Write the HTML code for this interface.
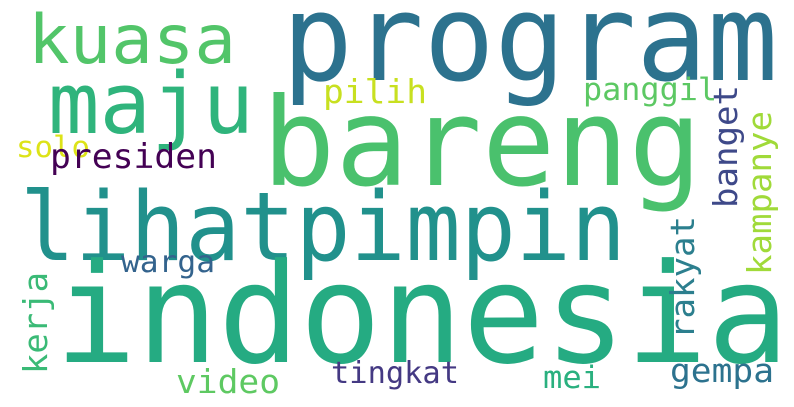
<!DOCTYPE html>
<html><head><meta charset="utf-8"><style>
html,body{margin:0;padding:0;background:#fff;}
svg{display:block;}
text{font-family:"DejaVu Sans Mono","Liberation Mono",monospace;}
</style></head><body>
<svg width="794" height="407" viewBox="0 0 794 407">
<rect width="794" height="407" fill="#fff"/>
<text x="282" y="80" font-size="120" fill="#2c728e" textLength="496" lengthAdjust="spacingAndGlyphs">program</text>
<text x="28" y="63" font-size="68" fill="#52c569" textLength="208" lengthAdjust="spacingAndGlyphs">kuasa</text>
<text x="48" y="133" font-size="85" fill="#2fb47c" textLength="206" lengthAdjust="spacingAndGlyphs">maju</text>
<text x="262" y="185" font-size="122" fill="#4ac16d" textLength="440" lengthAdjust="spacingAndGlyphs">bareng</text>
<text x="323" y="103" font-size="33" fill="#c8e020" textLength="104" lengthAdjust="spacingAndGlyphs">pilih</text>
<text x="583" y="100" font-size="31" fill="#5cc863" textLength="134" lengthAdjust="spacingAndGlyphs">panggil</text>
<text x="16" y="157" font-size="29" fill="#dde318" textLength="74" lengthAdjust="spacingAndGlyphs">solo</text>
<text x="50" y="168" font-size="34" fill="#440154" textLength="167" lengthAdjust="spacingAndGlyphs">presiden</text>
<text x="20" y="260" font-size="95" fill="#21918c" textLength="606" lengthAdjust="spacingAndGlyphs">lihatpimpin</text>
<text x="55" y="362" font-size="138" fill="#25ab82" textLength="734" lengthAdjust="spacingAndGlyphs">indonesia</text>
<text x="121" y="272" font-size="30" fill="#33638d" textLength="94" lengthAdjust="spacingAndGlyphs">warga</text>
<text x="176" y="393" font-size="33" fill="#5ec962" textLength="104" lengthAdjust="spacingAndGlyphs">video</text>
<text x="331" y="383" font-size="30" fill="#443983" textLength="128" lengthAdjust="spacingAndGlyphs">tingkat</text>
<text x="543" y="388" font-size="31" fill="#2ab07f" textLength="58" lengthAdjust="spacingAndGlyphs">mei</text>
<text x="670" y="382" font-size="33" fill="#2c728e" textLength="104" lengthAdjust="spacingAndGlyphs">gempa</text>
<text transform="translate(47,374) rotate(-90)" x="0" y="0" font-size="33" fill="#3aba76" textLength="102" lengthAdjust="spacingAndGlyphs">kerja</text>
<text transform="translate(737,208) rotate(-90)" x="0" y="0" font-size="33" fill="#3e4989" textLength="123" lengthAdjust="spacingAndGlyphs">banget</text>
<text transform="translate(771,275) rotate(-90)" x="0" y="0" font-size="33" fill="#a0da39" textLength="164" lengthAdjust="spacingAndGlyphs">kampanye</text>
<text transform="translate(694,339) rotate(-90)" x="0" y="0" font-size="33" fill="#2c7f8e" textLength="123" lengthAdjust="spacingAndGlyphs">rakyat</text>
</svg>
</body></html>
